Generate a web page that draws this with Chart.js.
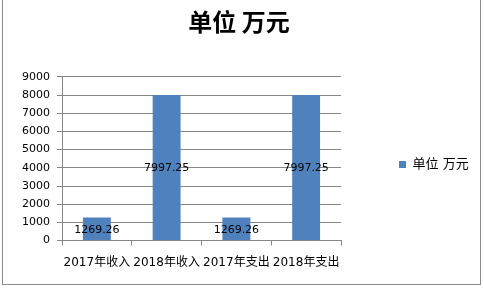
<!DOCTYPE html>
<html>
<head>
<meta charset="utf-8">
<script src="https://cdn.jsdelivr.net/npm/chart.js@4/dist/chart.umd.min.js"></script>
<style>
  html, body { margin: 0; padding: 0; background: #fff; }
  #wrap { position: relative; width: 484px; height: 288px; overflow: hidden; }
  #frame { position: absolute; left: 2px; top: -2px; width: 479px; height: 287px; border: 1px solid #8c8c8c; box-sizing: border-box; }
  canvas { position: absolute; left: 0; top: 0; }
</style>
</head>
<body>
<div id="wrap">
  <div id="frame"></div>
  <canvas id="c" width="484" height="288"></canvas>
</div>
<script>
const categories = ['2017年收入', '2018年收入', '2017年支出', '2018年支出'];
const seriesName = '单位 万元';
const values = [1269.26, 7997.25, 1269.26, 7997.25];
const yTicks = [0, 1000, 2000, 3000, 4000, 5000, 6000, 7000, 8000, 9000];

const FONT = '"DejaVu Sans", "Noto Sans CJK SC", sans-serif';

// draws value labels in the middle of each bar
const barLabels = {
  id: 'barLabels',
  afterInit(chart) {
    // legend box wider than the layout's default cap, leaves a gap left of the legend
    const lg = chart.legend;
    const fit = lg.fit;
    lg.fit = function() { fit.call(this); this.width = 137; };
  },
  afterDatasetsDraw(chart) {
    const ctx = chart.ctx;
    const meta = chart.getDatasetMeta(0);
    ctx.save();
    ctx.font = '11px ' + FONT;
    ctx.fillStyle = '#000';
    ctx.textAlign = 'center';
    ctx.textBaseline = 'middle';
    meta.data.forEach((bar, i) => {
      ctx.fillText(values[i].toFixed(2), bar.x, (bar.y + bar.base) / 2 + 1);
    });
    ctx.restore();
  }
};

new Chart(document.getElementById('c'), {
  type: 'bar',
  data: {
    labels: categories,
    datasets: [{
      label: seriesName,
      data: values,
      backgroundColor: '#4f81bd',
      borderWidth: 0,
      categoryPercentage: 1,
      barPercentage: 0.4
    }]
  },
  options: {
    responsive: false,
    animation: false,
    layout: { padding: { left: 0, right: 6, top: 0, bottom: 8 } },
    plugins: {
      title: {
        display: true,
        text: seriesName,
        color: '#000',
        font: { family: '"Noto Sans CJK SC", sans-serif', size: 24, weight: 'bold' },
        padding: { top: 7, bottom: 41 }
      },
      legend: {
        position: 'right',
        align: 'start',
        // blank legend title used only to push the single item down
        title: { display: true, text: ' ', font: { size: 10 }, padding: { top: 0, bottom: 88 } },
        labels: {
          color: '#000',
          font: { family: FONT, size: 13 },
          boxWidth: 7,
          boxHeight: 7,
          padding: 58
        }
      },
      tooltip: { enabled: false }
    },
    scales: {
      x: {
        grid: { drawOnChartArea: false, color: '#868686', tickLength: 5 },
        border: { color: '#868686' },
        ticks: { color: '#000', font: { family: FONT, size: 12 }, padding: 10, maxRotation: 0, autoSkip: false }
      },
      y: {
        min: 0,
        max: 9000,
        afterBuildTicks: axis => { axis.ticks = yTicks.map(v => ({ value: v })); },
        afterFit: s => { s.width = 62; },
        grid: { color: '#868686', tickLength: 5 },
        border: { color: '#868686' },
        ticks: { color: '#000', font: { family: FONT, size: 11 }, padding: 7, callback: v => String(v) }
      }
    }
  },
  plugins: [barLabels]
});
</script>
</body>
</html>
